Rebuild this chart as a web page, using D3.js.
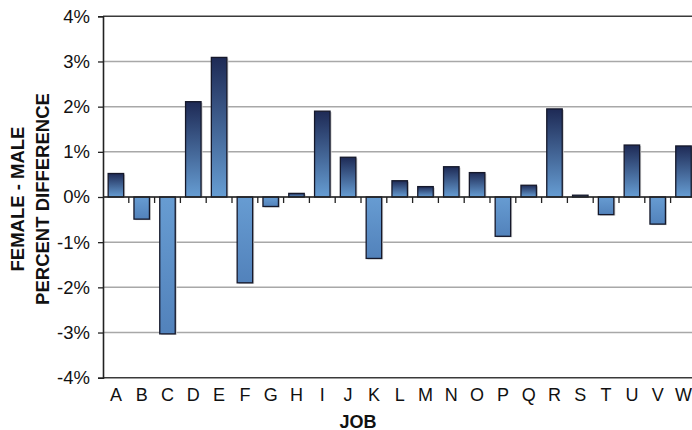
<!DOCTYPE html>
<html>
<head>
<meta charset="utf-8">
<script src="https://cdn.jsdelivr.net/npm/d3@7"></script>
<style>
  html, body { margin: 0; padding: 0; background: #fff; }
  svg { display: block; }
  text { font-family: "Liberation Sans", Arial, sans-serif; fill: #111; }
</style>
</head>
<body>
<svg id="chart" width="692" height="430"></svg>
<script>
// Jobs on the category axis
const jobs = ["A","B","C","D","E","F","G","H","I","J","K","L","M","N","O","P","Q","R","S","T","U","V","W"];
// Female minus male difference, in percent
const diffs = [0.52,-0.49,-3.03,2.11,3.09,-1.90,-0.21,0.08,1.90,0.88,-1.36,0.36,0.23,0.67,0.54,-0.87,0.26,1.95,0.04,-0.39,1.15,-0.60,1.13];
// Value axis ticks
const yTicks = [-4,-3,-2,-1,0,1,2,3,4];

const svg = d3.select("#chart");
const plotLeft = 103, plotTop = 16.3, plotBottom = 377.7, step = 25.8;

const x = d3.scaleBand().domain(jobs).range([plotLeft, plotLeft + step * jobs.length]).paddingInner(0.4).paddingOuter(0.2);
const y = d3.scaleLinear().domain([-4, 4]).range([plotBottom, plotTop]);

const defs = svg.append("defs");
const gPos = defs.append("linearGradient").attr("id", "gPos").attr("x1", 0).attr("y1", 0).attr("x2", 0).attr("y2", 1);
gPos.append("stop").attr("offset", "0%").attr("stop-color", "#1e2a55");
gPos.append("stop").attr("offset", "100%").attr("stop-color", "#669dd3");
const gNeg = defs.append("linearGradient").attr("id", "gNeg").attr("x1", 0).attr("y1", 0).attr("x2", 0).attr("y2", 1);
gNeg.append("stop").attr("offset", "0%").attr("stop-color", "#679cd2");
gNeg.append("stop").attr("offset", "100%").attr("stop-color", "#5282bb");

// Gridlines
svg.append("g").selectAll("line").data(yTicks).join("line")
  .attr("x1", plotLeft).attr("x2", 692)
  .attr("y1", d => y(d)).attr("y2", d => y(d))
  .attr("stroke", d => Math.abs(d) === 4 ? "#3a3a3a" : "#a8a8a8")
  .attr("stroke-width", 1.5);

// Value axis
const yAxis = d3.axisLeft(y).tickValues(yTicks).tickFormat(d => d + "%").tickSize(5).tickPadding(8);
const ya = svg.append("g").attr("transform", `translate(${plotLeft},0)`).call(yAxis);
ya.select(".domain").attr("stroke", "#222").attr("stroke-width", 1.6);
ya.selectAll(".tick line").attr("stroke", "#222").attr("stroke-width", 1.3);
ya.selectAll(".tick text").attr("font-size", 18.5).attr("fill", "#111").style("font-family", "'Liberation Sans', Arial, sans-serif");

// Bars with a soft drop shadow
const bw = x.bandwidth();
svg.append("g").selectAll("rect").data(diffs).join("rect")
  .attr("x", (d, i) => x(jobs[i]) + 1.5)
  .attr("y", d => Math.min(y(d), y(0)) + 1)
  .attr("width", bw)
  .attr("height", d => Math.abs(y(d) - y(0)))
  .attr("fill", "#c9c9c9");
svg.append("g").selectAll("rect").data(diffs).join("rect")
  .attr("x", (d, i) => x(jobs[i]))
  .attr("y", d => Math.min(y(d), y(0)))
  .attr("width", bw)
  .attr("height", d => Math.abs(y(d) - y(0)))
  .attr("fill", d => d >= 0 ? "url(#gPos)" : "url(#gNeg)")
  .attr("stroke", "#15182a")
  .attr("stroke-width", 1.3);

// Category axis along zero
svg.append("line").attr("x1", plotLeft).attr("x2", 692).attr("y1", y(0)).attr("y2", y(0))
  .attr("stroke", "#222").attr("stroke-width", 1.6);
svg.append("g").selectAll("line").data(jobs.slice(1)).join("line")
  .attr("x1", (d, i) => plotLeft + (i + 1) * step).attr("x2", (d, i) => plotLeft + (i + 1) * step)
  .attr("y1", y(0)).attr("y2", y(0) + 6)
  .attr("stroke", "#222").attr("stroke-width", 1.3);

// Category labels below the plot
svg.append("g").selectAll("text").data(jobs).join("text")
  .attr("x", d => x(d) + bw / 2).attr("y", 400.5)
  .attr("text-anchor", "middle").attr("font-size", 18)
  .text(d => d);

// Axis titles
svg.append("text").attr("x", 358).attr("y", 427.5).attr("text-anchor", "middle")
  .attr("font-size", 18).attr("font-weight", "bold").text("JOB");
const yt = svg.append("text").attr("transform", "translate(0,199) rotate(-90)")
  .attr("text-anchor", "middle").attr("font-size", 18.5).attr("font-weight", "bold");
yt.append("tspan").attr("x", 0).attr("y", 24).text("FEMALE - MALE");
yt.append("tspan").attr("x", 0).attr("y", 49).text("PERCENT DIFFERENCE");
</script>
</body>
</html>
